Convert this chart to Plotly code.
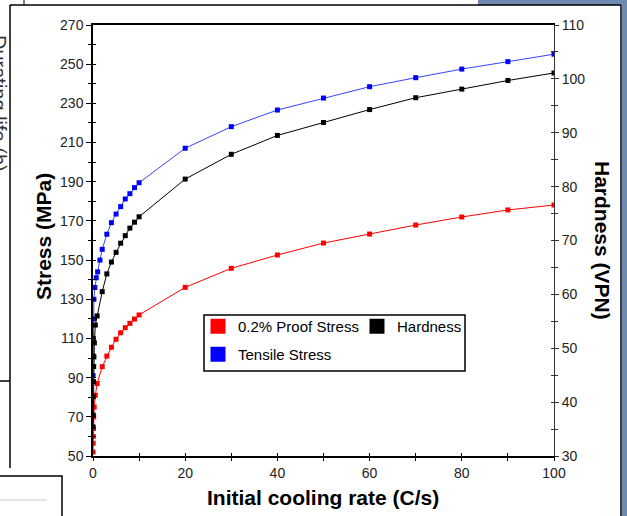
import plotly.graph_objects as go

# ---------------- data ----------------
x_proof = [0.01, 0.03, 0.05, 0.08, 0.15, 0.25, 0.5, 0.9,
           2, 3, 4, 5, 6, 7, 8, 9, 10,
           20, 30, 40, 50, 60, 70, 80, 90, 100]
proof_stress = [52, 56.5, 60, 64, 70, 75, 81, 87,
                95.6, 101.0, 105.5, 109.6, 112.9, 115.5, 117.7, 119.9, 122.0,
                136.1, 145.8, 152.6, 158.7, 163.3, 167.9, 172.0, 175.6, 178.1]

x_tensile = [0.02, 0.05, 0.08, 0.12, 0.2, 0.4, 0.7, 1.0, 1.5,
             2, 3, 4, 5, 6, 7, 8, 9, 10,
             20, 30, 40, 50, 60, 70, 80, 90, 100]
tensile_stress = [91, 101, 110, 120, 130, 136, 141, 144, 150,
                  155.5, 163.2, 169.1, 173.5, 177.3, 181.2, 183.9, 187.0, 189.5,
                  207.1, 218.1, 226.6, 232.7, 238.5, 243.1, 247.5, 251.3, 255.1]

x_hard = [0.02, 0.04, 0.07, 0.1, 0.15, 0.2, 0.3, 0.5, 0.9,
          2, 3, 4, 5, 6, 7, 8, 9, 10,
          20, 30, 40, 50, 60, 70, 80, 90, 100]
hardness = [35.4, 37.6, 41.0, 43.8, 46.6, 48.4, 51.0, 54.3, 56.0,
            60.5, 63.8, 66.0, 67.8, 69.5, 70.9, 72.3, 73.4, 74.4,
            81.4, 86.0, 89.5, 91.9, 94.3, 96.5, 98.1, 99.7, 101.1]

x_ticks = [0, 20, 40, 60, 80, 100]
stress_ticks = list(range(50, 271, 20))
hard_ticks = list(range(30, 111, 10))

names = ["0.2% Proof Stress", "Hardness", "Tensile Stress"]
colors = ["#FF0000", "#000000", "#0000FF"]

# ---------------- layout geometry ----------------
W, H = 627, 516
L, R, T, B = 93, 73, 25, 60
PW, PH = W - L - R, H - T - B
FONT = "Liberation Sans, Arial, sans-serif"


def px(x):
    return (x - L) / PW


def py(y):
    return (H - B - y) / PH


fig = go.Figure()

fig.add_trace(go.Scatter(x=x_proof, y=proof_stress, mode="lines+markers",
                         line=dict(color=colors[0], width=1),
                         marker=dict(symbol="square", size=5, color=colors[0]),
                         showlegend=False, hoverinfo="skip"))
fig.add_trace(go.Scatter(x=x_hard, y=hardness, mode="lines+markers", yaxis="y2",
                         line=dict(color=colors[1], width=1),
                         marker=dict(symbol="square", size=5, color=colors[1]),
                         showlegend=False, hoverinfo="skip"))
fig.add_trace(go.Scatter(x=x_tensile, y=tensile_stress, mode="lines+markers",
                         line=dict(color="#3344FF", width=1),
                         marker=dict(symbol="square", size=5, color=colors[2]),
                         showlegend=False, hoverinfo="skip"))

# legend swatches
for i, (n, c) in enumerate(zip(names, colors)):
    fig.add_trace(go.Scatter(x=[None], y=[None], mode="markers", name=n,
                             marker=dict(symbol="square", size=15, color=c),
                             legend="legend" if i < 2 else "legend2",
                             hoverinfo="skip"))

# helper traces for inside tick marks (crossing ticks)
fig.add_trace(go.Scatter(x=[None], y=[None], xaxis="x2", yaxis="y3",
                         showlegend=False, hoverinfo="skip"))
fig.add_trace(go.Scatter(x=[None], y=[None], yaxis="y4",
                         showlegend=False, hoverinfo="skip"))

tickfont = dict(family=FONT, size=14, color="#222222")
common = dict(showgrid=False, zeroline=False, fixedrange=True)

fig.update_layout(
    width=W, height=H,
    margin=dict(l=L, r=R, t=T, b=B),
    paper_bgcolor="white", plot_bgcolor="white",
    xaxis=dict(range=[0, 100], tickvals=x_ticks, ticks="outside", ticklen=3,
               tickcolor="black", tickwidth=1,
               minor=dict(dtick=10, ticks="outside", ticklen=3, tickcolor="black"),
               showline=True, linecolor="black", linewidth=1.5, mirror=True,
               tickfont=tickfont, anchor="y", **common),
    xaxis2=dict(range=[0, 100], overlaying="x", anchor="y", dtick=10,
                ticks="inside", ticklen=3, tickcolor="black",
                showticklabels=False, showline=False, **common),
    yaxis=dict(range=[50, 270], tickvals=stress_ticks, ticks="outside", ticklen=5,
               tickcolor="black",
               minor=dict(dtick=10, ticks="outside", ticklen=3, tickcolor="black"),
               showline=True, linecolor="black", linewidth=1.5,
               tickfont=tickfont, anchor="x", **common),
    yaxis3=dict(range=[50, 270], overlaying="y", anchor="x", side="left", dtick=10,
                ticks="inside", ticklen=3, tickcolor="black",
                showticklabels=False, showline=False, **common),
    yaxis2=dict(range=[30, 110], tickvals=hard_ticks, overlaying="y", side="right",
                anchor="x", ticks="outside", ticklen=4, tickcolor="#333333",
                minor=dict(dtick=5, ticks="outside", ticklen=3, tickcolor="#333333"),
                showline=True, linecolor="#333333", linewidth=1,
                tickfont=tickfont, **common),
    yaxis4=dict(range=[30, 110], overlaying="y", side="right", anchor="x", dtick=5,
                ticks="inside", ticklen=3, tickcolor="#333333",
                showticklabels=False, showline=False, **common),
    legend=dict(orientation="h", x=px(198), y=py(310), xanchor="left", yanchor="top",
                bgcolor="rgba(0,0,0,0)", borderwidth=0,
                font=dict(family=FONT, size=15, color="black"),
                entrywidth=114, entrywidthmode="pixels", itemsizing="trace"),
    legend2=dict(orientation="h", x=px(198), y=py(338), xanchor="left", yanchor="top",
                 bgcolor="rgba(0,0,0,0)", borderwidth=0,
                 font=dict(family=FONT, size=15, color="black"),
                 itemsizing="trace"),
    showlegend=True,
)

title_font = dict(family=FONT, size=21, color="black", weight="bold")
fig.add_annotation(text="Initial cooling rate (C/s)", xref="paper", yref="paper",
                   x=px(323), y=py(497), xanchor="center", yanchor="middle",
                   showarrow=False, font=title_font)
fig.add_annotation(text="Stress (MPa)", xref="paper", yref="paper",
                   x=px(43), y=py(237), xanchor="center", yanchor="middle",
                   textangle=-90, showarrow=False, font=title_font)
fig.add_annotation(text="Hardness (VPN)", xref="paper", yref="paper",
                   x=px(603), y=py(240), xanchor="center", yanchor="middle",
                   textangle=90, showarrow=False, font=title_font)
# fragment of neighbouring document text at the left edge
fig.add_annotation(text="Durating life (h)", xref="paper", yref="paper",
                   x=px(-1), y=py(103), xanchor="center", yanchor="middle",
                   textangle=90, showarrow=False,
                   font=dict(family=FONT, size=20, color="#333333"))


def line(x0, y0, x1, y1, color="black", width=1.5):
    fig.add_shape(type="line", xref="paper", yref="paper",
                  x0=px(x0), y0=py(y0), x1=px(x1), y1=py(y1),
                  line=dict(color=color, width=width))


def rect(x0, y0, x1, y1, fill, lcolor=None, width=0, layer="above"):
    fig.add_shape(type="rect", xref="paper", yref="paper", layer=layer,
                  x0=px(x0), y0=py(y0), x1=px(x1), y1=py(y1),
                  fillcolor=fill,
                  line=dict(color=lcolor or fill, width=width))


# legend frame
rect(204, 315, 465, 371, "rgba(0,0,0,0)", "black", 1.5)

# surrounding document decorations
rect(478, -2, 630, 5, "#7089B0")
rect(622, -2, 630, 520, "#7089B0")
line(10, 5, 621, 5)
line(10, 5, 10, 468)
line(621, 5, 621, 520)
line(0, 381, 10, 381)
line(24, 0, 24, 5, width=1)
rect(-2, 476, 62, 520, "white", "black", 1.5)
line(0, 500, 47, 500, color="#CCCCCC", width=1)

fig.write_html("out.html")
